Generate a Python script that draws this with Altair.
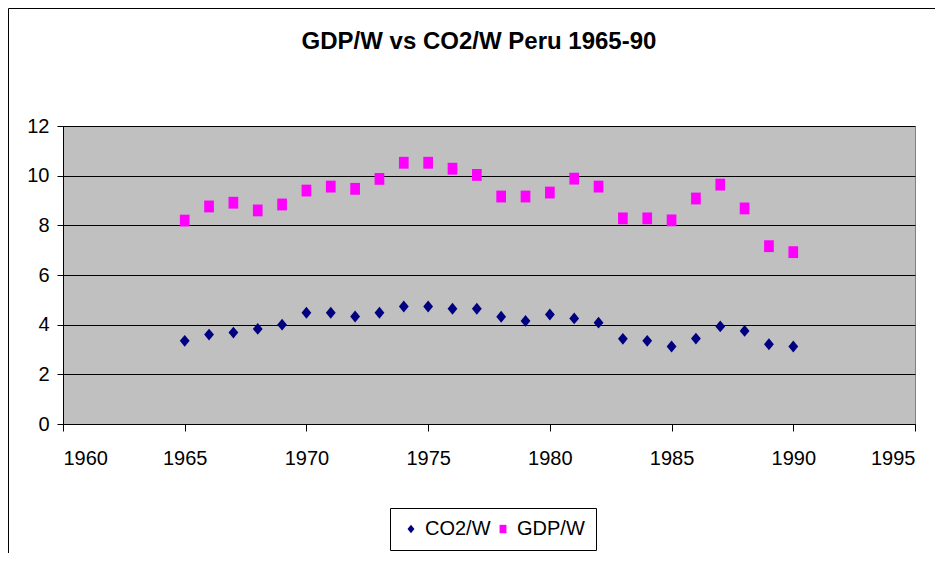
import altair as alt
import pandas as pd

years = list(range(1965, 1991))
co2_w = [3.35, 3.60, 3.68, 3.83, 4.00, 4.48, 4.48, 4.33, 4.48, 4.73, 4.73, 4.64, 4.64,
         4.32, 4.15, 4.41, 4.25, 4.08, 3.43, 3.35, 3.12, 3.44, 3.93, 3.75, 3.21, 3.12]
gdp_w = [8.19, 8.76, 8.91, 8.60, 8.84, 9.40, 9.56, 9.47, 9.87, 10.52, 10.52, 10.28, 10.03,
         9.16, 9.16, 9.32, 9.88, 9.56, 8.28, 8.28, 8.20, 9.08, 9.64, 8.68, 7.16, 6.92]
series_names = ["CO2/W", "GDP/W"]
x_ticks = [1960, 1965, 1970, 1975, 1980, 1985, 1990, 1995]
y_ticks = [0, 2, 4, 6, 8, 10, 12]

df = pd.DataFrame({
    "year": years * 2,
    "value": co2_w + gdp_w,
    "series": [series_names[0]] * len(years) + [series_names[1]] * len(years),
})

W, H = 852, 298
PAD = {"left": 55, "top": 118, "right": 20, "bottom": 129}
FONT = "Liberation Sans"

diamond = "M0,-1L0.83,0L0,1L-0.83,0Z"
rect = "M-0.82,-1H0.82V1H-0.82Z"

legend_opts = dict(title=None, orient="none", direction="horizontal",
                   legendX=327, legendY=382, padding=11,
                   strokeColor="black", fillColor="white",
                   labelFontSize=20, labelFont=FONT, labelColor="black",
                   symbolSize=70, labelOffset=4, columnPadding=2,
                   symbolOpacity=1)

points = alt.Chart(df).mark_point(filled=True, opacity=1, size=140).encode(
    x=alt.X("year:Q", scale=alt.Scale(domain=[1960, 1995], nice=False, zero=False),
            axis=alt.Axis(values=x_ticks, format="d", title=None, grid=False,
                          tickSize=7, labelPadding=17, tickColor="black",
                          domainColor="black", labelFontSize=20, labelColor="black",
                          labelFont=FONT)),
    y=alt.Y("value:Q", scale=alt.Scale(domain=[0, 12], nice=False),
            axis=alt.Axis(values=y_ticks, title=None, grid=True, gridColor="black",
                          gridWidth=1, tickSize=6, labelPadding=8, tickColor="black",
                          domainColor="black", labelFontSize=20, labelColor="black",
                          labelFont=FONT)),
    color=alt.Color("series:N",
                    scale=alt.Scale(domain=series_names, range=["#000080", "#FF00FF"]),
                    legend=alt.Legend(**legend_opts)),
    shape=alt.Shape("series:N",
                    scale=alt.Scale(domain=series_names, range=[diamond, rect]),
                    legend=alt.Legend(**legend_opts)),
)

frame_df = pd.DataFrame({"k": [0]})
left_frame = alt.Chart(frame_df).mark_rule(color="black", strokeWidth=1).encode(
    x=alt.value(-54.5), y=alt.value(-117.5), y2=alt.value(H + PAD["bottom"]))
top_frame = alt.Chart(frame_df).mark_rule(color="black", strokeWidth=1).encode(
    x=alt.value(-54.5), x2=alt.value(W + PAD["right"]), y=alt.value(-117.5))

chart = alt.layer(points, left_frame, top_frame).properties(
    width=W, height=H,
    autosize=alt.AutoSizeParams(type="none"),
    padding=PAD,
    title=alt.TitleParams("GDP/W vs CO2/W Peru 1965-90", font=FONT, fontSize=24,
                          fontWeight="bold", color="black", anchor="middle",
                          offset=-46, dx=-10),
).configure(background="white").configure_view(fill="#C0C0C0", stroke="#808080", strokeWidth=1)

chart.save("out.html", embed_options={"renderer": "svg", "actions": False})
